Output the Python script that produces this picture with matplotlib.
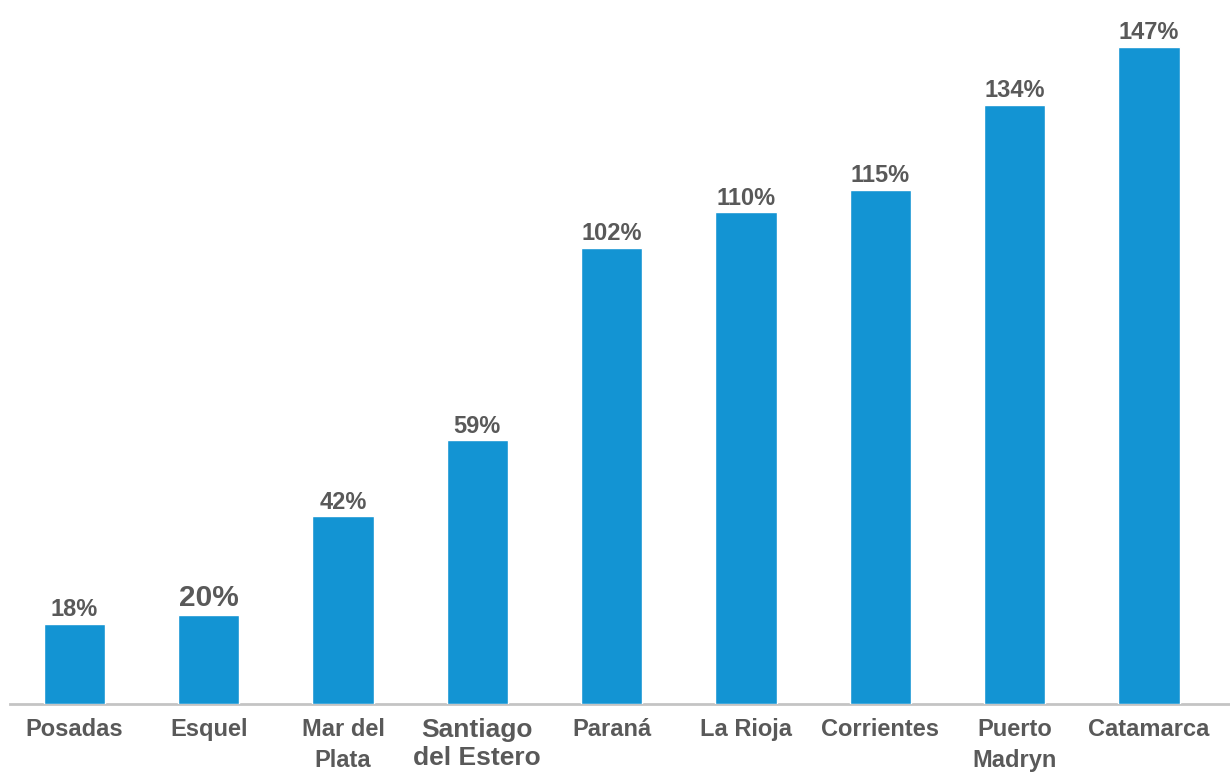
import matplotlib.pyplot as plt
import numpy as np

plt.rcParams['font.family'] = ['Liberation Sans', 'DejaVu Sans']

cities = ['Posadas', 'Esquel', 'Mar del\nPlata', 'Santiago\ndel Estero', 'Paraná',
          'La Rioja', 'Corrientes', 'Puerto\nMadryn', 'Catamarca']
pct = [18, 20, 42, 59, 102, 110, 115, 134, 147]
pct_labels = ['18%', '20%', '42%', '59%', '102%', '110%', '115%', '134%', '147%']

barColor = '#1394d3'
textColor = '#595959'

fig = plt.figure(figsize=(12.3, 7.74), dpi=100)
ax = fig.add_axes([0.008, 0.0904, 0.992, 0.9096])

x = np.arange(len(cities))
ax.bar(x, pct, width=0.455, color=barColor, edgecolor='white', linewidth=1, zorder=2)

for i in range(len(pct)):
    fs = 21.5 if i == 1 else 17
    ax.annotate(pct_labels[i], (x[i], pct[i]), xytext=(0, 2), textcoords='offset points',
                ha='center', va='bottom', fontsize=fs, fontweight='bold', color=textColor)

ax.set_xlim(-0.48, 8.603)
ax.set_ylim(0, 157.5)

ax.set_xticks(x)
ax.set_xticklabels(cities, fontsize=17, fontweight='bold', color=textColor, linespacing=1.45)
ax.get_xticklabels()[3].set_fontsize(19)
ax.get_xticklabels()[3].set_linespacing(1.22)
ax.tick_params(axis='x', length=0, pad=10)
ax.set_yticks([])

for s in ['top', 'right', 'left']:
    ax.spines[s].set_visible(False)
ax.spines['bottom'].set_color('#c4c4c4')
ax.spines['bottom'].set_linewidth(2)
ax.spines['bottom'].set_zorder(1)

plt.savefig('out.png', dpi=100)
